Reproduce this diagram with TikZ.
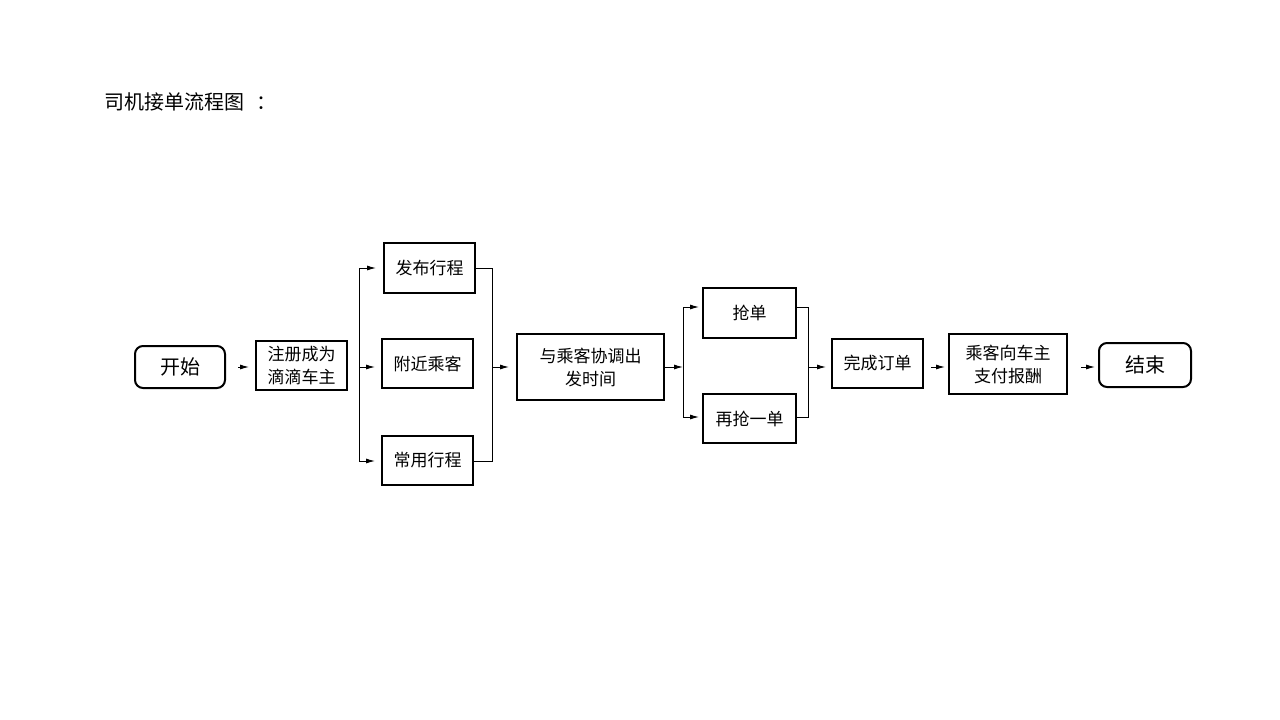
\documentclass[tikz,border=0pt]{standalone}
\usepackage{fontspec}
\newfontfamily\cjk{Noto Sans CJK SC}
\usetikzlibrary{arrows.meta}
\begin{document}
\begin{tikzpicture}[x=1pt,y=-1pt,
  box/.style={draw,line width=2pt,inner sep=0pt,align=center,font=\cjk\fontsize{17}{23}\selectfont},
  term/.style={box,rounded corners=8pt,font=\cjk\fontsize{20}{24}\selectfont},
  ln/.style={line width=1pt},
  arr/.style={line width=1pt,-{Latex[length=9pt,width=5pt]}}]
\useasboundingbox[fill=white] (0,0) rectangle (1280,720);
\node[anchor=west,font=\cjk\fontsize{20}{24}\selectfont] (title) at (101,102) {司机接单流程图\kern12pt：};
\node[term,minimum width=90,minimum height=42] (start) at (180,367) {开始};
\node[box,minimum width=91,minimum height=49] (reg) at (301.5,365.5) {注册成为\\滴滴车主};
\node[box,minimum width=91,minimum height=50] (pub) at (429.5,268) {发布行程};
\node[box,minimum width=91,minimum height=49] (near) at (427.5,363.5) {附近乘客};
\node[box,minimum width=91,minimum height=49] (often) at (427.5,460.5) {常用行程};
\node[box,minimum width=147,minimum height=66] (coord) at (590.5,367) {与乘客协调出\\发时间};
\node[box,minimum width=93,minimum height=50] (grab) at (749.5,313) {抢单};
\node[box,minimum width=93,minimum height=49] (again) at (749.5,418.5) {再抢一单};
\node[box,minimum width=91,minimum height=49] (done) at (877.5,363.5) {完成订单};
\node[box,minimum width=118,minimum height=60] (pay) at (1008,364) {乘客向车主\\支付报酬};
\node[term,minimum width=92,minimum height=44] (end) at (1145,365) {结束};
% fork 1
\coordinate (f1t) at (359,268);
\coordinate (f1m) at (359,367);
\coordinate (f1b) at (359,461);
\draw[arr,shorten <=12,shorten >=6] (start.east |- f1m) -- (reg.west |- f1m);
\draw[ln] (f1t) -- (f1b);
\draw[arr,shorten >=7] (f1t) -- (pub.west |- f1t);
\draw[arr,shorten >=6] (f1m) -- (near.west |- f1m);
\draw[arr,shorten >=6] (f1b) -- (often.west |- f1b);
% merge 1
\coordinate (m1t) at (492.5,268);
\coordinate (m1m) at (492.5,367);
\coordinate (m1b) at (492.5,461);
\draw[ln] (pub.east |- m1t) -- (m1t) -- (m1b) -- (often.east |- m1b);
\draw[arr,shorten >=7] (m1m) -- (coord.west |- m1m);
% fork 2
\coordinate (f2t) at (683,307);
\coordinate (f2m) at (683,367);
\coordinate (f2b) at (683,417);
\draw[arr] (coord.east |- f2m) -- (f2m);
\draw[ln] (f2t) -- (f2b);
\draw[arr,shorten >=3] (f2t) -- (grab.west |- f2t);
\draw[arr,shorten >=3] (f2b) -- (again.west |- f2b);
% merge 2
\coordinate (m2t) at (808,307);
\coordinate (m2m) at (808,367);
\coordinate (m2b) at (808,417);
\draw[ln] (grab.east |- m2t) -- (m2t) -- (m2b) -- (again.east |- m2b);
\draw[arr,shorten >=5] (m2m) -- (done.west |- m2m);
\draw[arr,shorten <=7,shorten >=3] (done.east |- m2m) -- (pay.west |- m2m);
\draw[arr,shorten <=13,shorten >=3] (pay.east |- m2m) -- (end.west |- m2m);
\end{tikzpicture}
\end{document}
